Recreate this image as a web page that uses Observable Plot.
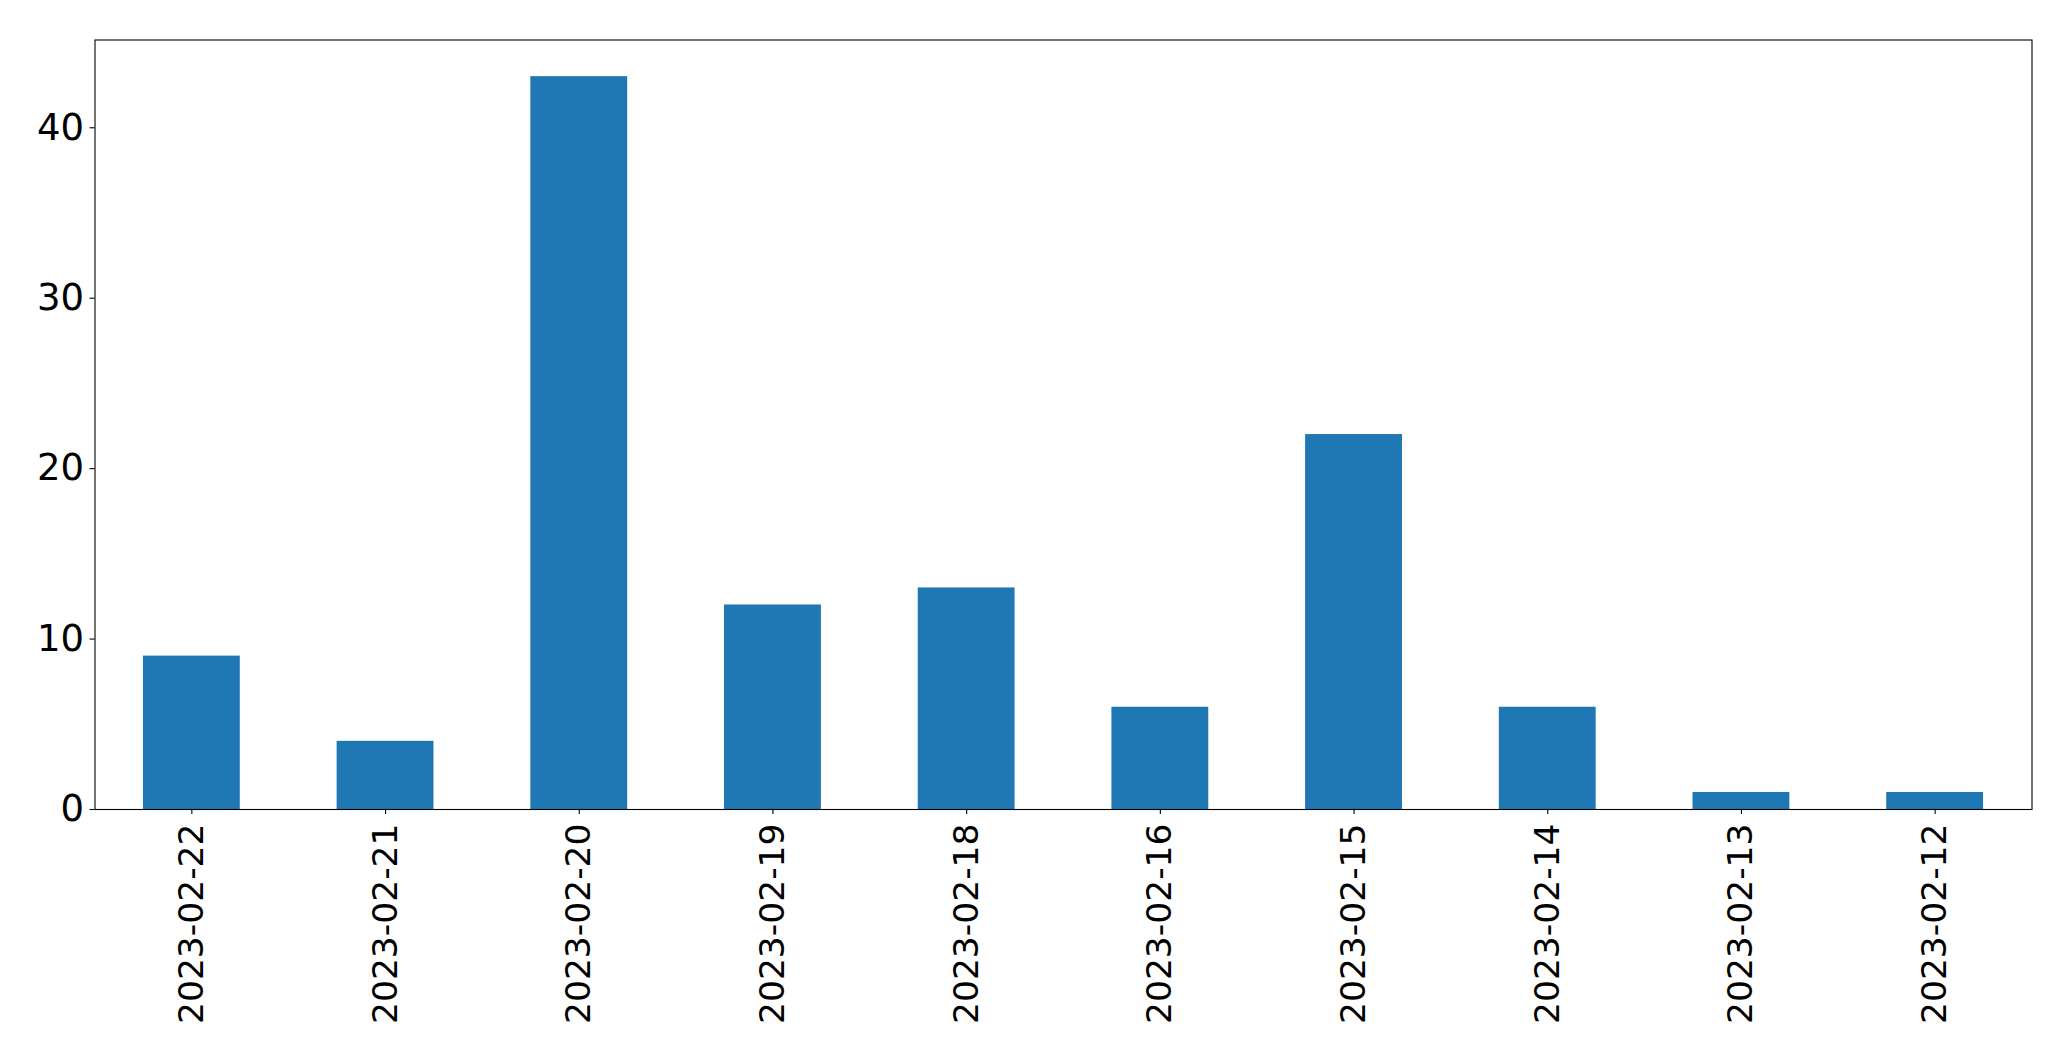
<!DOCTYPE html>
<html>
<head>
<meta charset="utf-8">
<script src="https://cdn.jsdelivr.net/npm/d3@7"></script>
<script src="https://cdn.jsdelivr.net/npm/@observablehq/plot@0.6"></script>
<style>
  html, body { margin: 0; padding: 0; background: #fff; }
  #chart svg { display: block; }
</style>
</head>
<body>
<div id="chart"></div>
<script>
const dates = ["2023-02-22","2023-02-21","2023-02-20","2023-02-19","2023-02-18","2023-02-16","2023-02-15","2023-02-14","2023-02-13","2023-02-12"];
const counts = [9, 4, 43, 12, 13, 6, 22, 6, 1, 1];
const yTicks = [0, 10, 20, 30, 40];

const data = dates.map((d, i) => ({date: d, count: counts[i]}));

const chart = Plot.plot({
  width: 2071,
  height: 1061,
  marginLeft: 94.5,
  marginRight: 39.5,
  marginTop: 39.5,
  marginBottom: 252,
  style: {fontFamily: "DejaVu Sans", fontSize: "35px", color: "black", background: "white"},
  x: {domain: dates, paddingInner: 0.5, paddingOuter: 0.25, round: false, label: null},
  y: {domain: [0, 45.15], label: null},
  marks: [
    Plot.barY(data, {x: "date", y: "count", fill: "#1f77b4"}),
    Plot.axisX({tickRotate: -90, tickSize: 5, tickPadding: 9, fontSize: 34.5, stroke: "black", strokeWidth: 1.1, label: null}),
    Plot.axisY({ticks: yTicks, tickSize: 5, tickPadding: 6, fontSize: 37, stroke: "black", strokeWidth: 1.1, label: null}),
    Plot.frame({stroke: "black", strokeWidth: 1.1})
  ]
});
document.getElementById("chart").appendChild(chart);
</script>
</body>
</html>
